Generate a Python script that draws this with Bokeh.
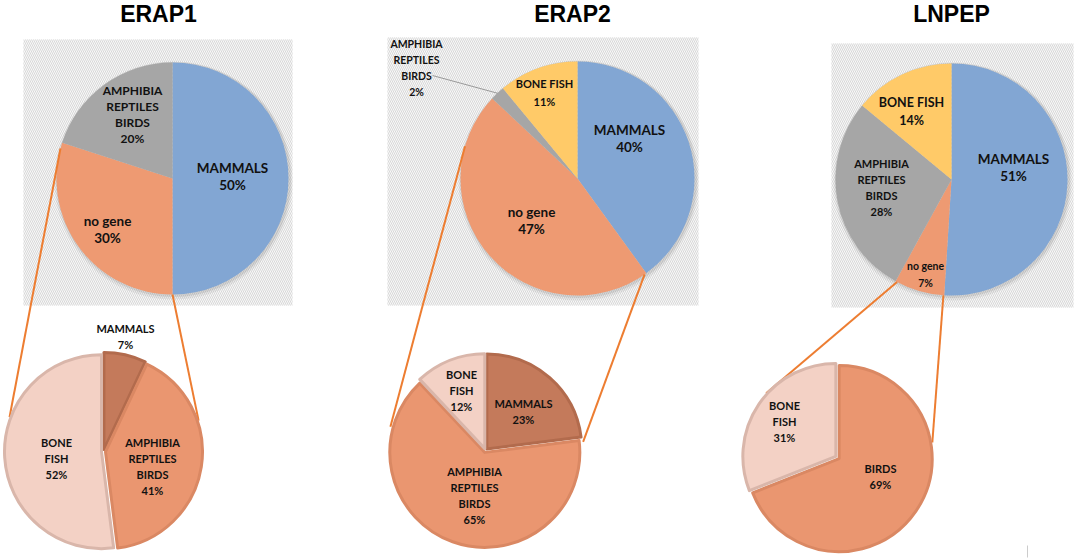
import math
from bokeh.plotting import figure
from bokeh.models import Range1d
from bokeh.core.properties import value
from bokeh.embed import file_html
from bokeh.resources import INLINE

# ---------------- data ----------------
titles = ["ERAP1", "ERAP2", "LNPEP"]

erap1_top_cats = ["MAMMALS", "no gene", "AMPHIBIA\nREPTILES\nBIRDS"]
erap1_top_vals = [50, 30, 20]
erap2_top_cats = ["MAMMALS", "no gene", "AMPHIBIA\nREPTILES\nBIRDS", "BONE FISH"]
erap2_top_vals = [40, 47, 2, 11]
lnpep_top_cats = ["MAMMALS", "no gene", "AMPHIBIA\nREPTILES\nBIRDS", "BONE FISH"]
lnpep_top_vals = [51, 7, 28, 14]

erap1_sub_cats = ["MAMMALS", "AMPHIBIA\nREPTILES\nBIRDS", "BONE\nFISH"]
erap1_sub_vals = [7, 41, 52]
erap2_sub_cats = ["MAMMALS", "AMPHIBIA\nREPTILES\nBIRDS", "BONE\nFISH"]
erap2_sub_vals = [23, 65, 12]
lnpep_sub_cats = ["BIRDS", "BONE\nFISH"]
lnpep_sub_vals = [69, 31]

# ---------------- styles ----------------
TOP_COLORS = {"MAMMALS": "#82A6D3", "no gene": "#EE9A72",
              "AMPHIBIA\nREPTILES\nBIRDS": "#A6A6A6", "BONE FISH": "#FFCA68"}
SUB_FILL = {"MAMMALS": "#C47A5B", "AMPHIBIA\nREPTILES\nBIRDS": "#EA9670",
            "BIRDS": "#EA9670", "BONE\nFISH": "#F3D1C5"}
SUB_LINE = {"MAMMALS": "#B26B4D", "AMPHIBIA\nREPTILES\nBIRDS": "#DA8863",
            "BIRDS": "#DA8863", "BONE\nFISH": "#D9B6AA"}
CONNECT = "#ED7D31"
FONT = "Lato"
TXT = "#111111"

W, H = 1074, 559
p = figure(width=W, height=H, output_backend="svg", toolbar_location=None,
           x_range=Range1d(0, W), y_range=Range1d(0, H),
           min_border=0, outline_line_color=None, background_fill_color="white",
           border_fill_color="white")
p.axis.visible = False
p.grid.visible = False


def Y(yimg):
    return H - yimg


def pt(cx, cy, r, deg):
    a = math.radians(deg)
    return cx + r * math.sin(a), Y(cy + (-r * math.cos(a)))


# layout per chart: title x, box, top pie centre/radius, sub pie centre/radius,
# label offsets, connector angles
layout = [
    dict(tx=158, box=(23, 39, 292, 305), c=(172, 178), r=116, c2=(103, 451), r2=99,
         top_off=[(60, -2), (-65, 51), (-40, -64)],
         top_fs=[13.5, 13.5, 12],
         sub_off=[(22, -115), (49, 15), (-47, 7)],
         conn=[(285, 290), (180, 72)]),
    dict(tx=572, box=(387, 37, 698, 305), c=(577, 178), r=117, c2=(485, 450), r2=97,
         top_off=[(52, -40), (-46, 42), (-161, -111), (-33, -86)],
         top_fs=[13.5, 13.5, 10.5, 11],
         sub_off=[(38, -39), (-11, 45), (-24, -60)],
         conn=[(286, 284), (145, 85)]),
    dict(tx=951, box=(831, 43, 1073, 307), c=(951, 179), r=116, c2=(837, 457), r2=95,
         top_off=[(62, -12), (-26, 95), (-70, 8), (-40, -68)],
         top_fs=[13.5, 10.5, 11, 12.5],
         sub_off=[(43, 19), (-53, -36)],
         conn=[(208, 312), (184, 81)]),
]

tops = [(erap1_top_cats, erap1_top_vals), (erap2_top_cats, erap2_top_vals),
        (lnpep_top_cats, lnpep_top_vals)]
subs = [(erap1_sub_cats, erap1_sub_vals), (erap2_sub_cats, erap2_sub_vals),
        (lnpep_sub_cats, lnpep_sub_vals)]


def label(x, yimg, txt, fs, lh=16.0):
    lines = txt.split("\n")
    n = len(lines)
    for i, ln in enumerate(lines):
        yy = yimg + (i - (n - 1) / 2) * lh
        p.text(x=[x], y=[Y(yy)], text=[ln], text_font=value(FONT),
               text_font_style="bold", text_font_size=f"{fs}px",
               text_align="center", text_baseline="middle", text_color=TXT)


def slices(vals):
    tot = float(sum(vals))
    out, acc = [], 0.0
    for v in vals:
        a0 = acc / tot * 360
        acc += v
        a1 = acc / tot * 360
        out.append((a0, a1))
    return out


for k, L in enumerate(layout):
    # title
    p.text(x=[L["tx"]], y=[Y(13)], text=[titles[k]], text_font=value("Liberation Sans"),
           text_font_style="bold", text_font_size="23px", text_align="center",
           text_baseline="middle", text_color="#000000")
    # hatched box
    x0, y0, x1, y1 = L["box"]
    p.quad(left=[x0], right=[x1], top=[Y(y0)], bottom=[Y(y1)], fill_color="#f8f8f8",
           line_color=None, hatch_pattern="\\", hatch_color="#d8d8d8",
           hatch_scale=4, hatch_weight=1)

for k, L in enumerate(layout):
    cx, cy = L["c"]
    r = L["r"]
    cats, vals = tops[k]
    # shadow
    p.circle(x=[cx + 1], y=[Y(cy + 2)], radius=r + 3, fill_color="#888888",
             fill_alpha=0.12, line_color=None)
    p.circle(x=[cx + 1], y=[Y(cy + 1)], radius=r + 1.5, fill_color="#888888",
             fill_alpha=0.2, line_color=None)
    for (a0, a1), cat in zip(slices(vals), cats):
        p.wedge(x=[cx], y=[Y(cy)], radius=r, start_angle=math.radians(90 - a1),
                end_angle=math.radians(90 - a0), direction="anticlock",
                fill_color=TOP_COLORS[cat], line_color=None)
    # connectors
    cx2, cy2 = L["c2"]
    r2 = L["r2"]
    for sa, ea in L["conn"]:
        xs, ys = pt(cx, cy, r, sa)
        xe, ye = pt(cx2, cy2, r2 + 1, ea)
        p.line(x=[xs, xe], y=[ys, ye], line_color=CONNECT, line_width=2)

    # sub pie
    scats, svals = subs[k]
    for (a0, a1), cat in zip(slices(svals), scats):
        mid = math.radians((a0 + a1) / 2)
        ex = 2.0 * math.sin(mid)
        ey = 2.0 * math.cos(mid)
        p.wedge(x=[cx2 + ex], y=[Y(cy2) + ey], radius=r2 - 2,
                start_angle=math.radians(90 - a1), end_angle=math.radians(90 - a0),
                direction="anticlock", fill_color=SUB_FILL[cat],
                line_color=SUB_LINE[cat], line_width=3, line_join="round")

# labels
for k, L in enumerate(layout):
    cx, cy = L["c"]
    cats, vals = tops[k]
    for cat, v, (dx, dy), fs in zip(cats, vals, L["top_off"], L["top_fs"]):
        label(cx + dx, cy + dy, f"{cat}\n{v}%", fs, 16 if "\n" in cat else 17.5)
    cx2, cy2 = L["c2"]
    scats, svals = subs[k]
    for cat, v, (dx, dy) in zip(scats, svals, L["sub_off"]):
        label(cx2 + dx, cy2 + dy, f"{cat}\n{v}%", 11, 16)

# leader line for small ERAP2 slice label
L = layout[1]
a0, a1 = slices(erap2_top_vals)[2]
xe, ye = pt(L["c"][0], L["c"][1], L["r"], (a0 + a1) / 2)
p.line(x=[L["c"][0] - 145, xe], y=[Y(L["c"][1] - 103), ye], line_color="#9a9a9a", line_width=1)

# faint stray mark bottom right
p.line(x=[1027, 1027], y=[Y(545), Y(557)], line_color="#cccccc", line_width=1)

open("out.html", "w").write(file_html(p, INLINE))
